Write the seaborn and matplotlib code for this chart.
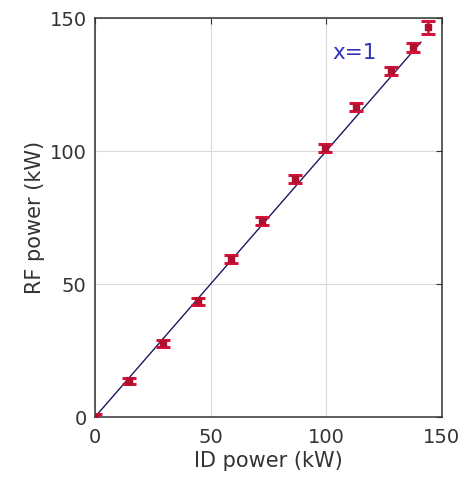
import matplotlib
matplotlib.use('Agg')
import matplotlib.pyplot as plt
import seaborn as sns
import numpy as np

id_power = [0, 14.7, 29.4, 44.5, 58.8, 72.2, 86.5, 99.4, 113, 128, 137.5, 144]
rf_power = [0, 13.5, 27.8, 43.6, 59.4, 73.7, 89.5, 101, 116.5, 130, 139, 146.5]
rf_err = [1.2, 1.2, 1.3, 1.3, 1.4, 1.4, 1.4, 1.5, 1.5, 1.5, 1.6, 2.4]
line_x = [0, 141]

sns.set_style('white')
plt.rcParams['font.family'] = ['DejaVu Sans']

fig = plt.figure(figsize=(4.69, 4.78), dpi=100)
ax = fig.add_axes([0.2026, 0.1276, 0.7394, 0.8346])

ax.grid(True, color='#d9d9d9', linewidth=0.8)
ax.set_axisbelow(True)

sns.lineplot(x=line_x, y=line_x, ax=ax, color='#1a1a60', linewidth=1.0)
ax.errorbar(id_power, rf_power, yerr=rf_err, fmt='s', color='#d4123a',
            mfc='#b0102e', mec='#b0102e',
            markersize=4, capsize=5, capthick=2.2, elinewidth=1.8, zorder=3)

ax.text(102.5, 137, 'x=1', color='#3030b8', fontsize=15.5, va='center')

ax.set_xlim(0, 150)
ax.set_ylim(0, 150)
ax.set_xticks([0, 50, 100, 150])
ax.set_yticks([0, 50, 100, 150])
ax.tick_params(direction='in', top=True, right=True, labelsize=14,
               colors='#333333', length=4, width=0.8)
ax.tick_params(axis='x', pad=8)
ax.tick_params(axis='y', pad=6)
for s in ax.spines.values():
    s.set_visible(True)
    s.set_color('#333333')
    s.set_linewidth(1.1)

ax.set_xlabel('ID power (kW)', fontsize=15, color='#333333', labelpad=3)
ax.set_ylabel('RF power (kW)', fontsize=15, color='#333333', labelpad=3)

fig.savefig('out.png', dpi=100)
